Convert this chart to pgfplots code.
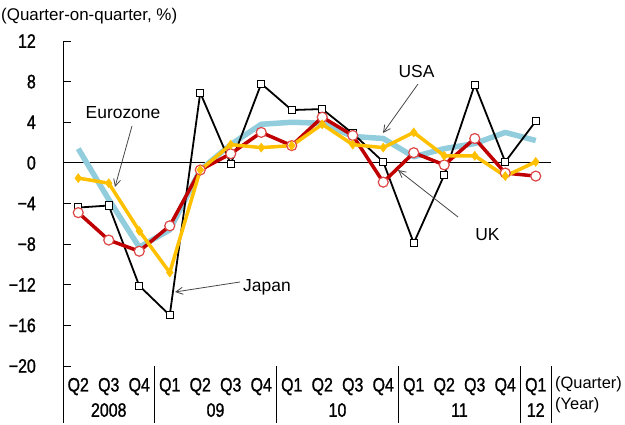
\documentclass[border=0pt]{standalone}
\usepackage{pgfplots}
\pgfplotsset{compat=1.18}
\usepackage{fontspec}
\setmainfont{Liberation Sans}
\newfontfamily\tickfont[FakeStretch=0.82,FakeBold=1.2]{Liberation Sans}
\usetikzlibrary{arrows.meta}
\definecolor{usab}{RGB}{146,205,222}
\definecolor{ukr}{RGB}{192,0,0}
\definecolor{ukc}{RGB}{222,70,70}
\definecolor{euy}{RGB}{255,192,0}
\definecolor{arr}{RGB}{70,70,70}
\newcommand\tf{\tickfont\fontsize{19.5}{19.5}\selectfont}
\begin{document}
\begin{tikzpicture}
\useasboundingbox (0bp,0bp) rectangle (625bp,425bp);
\begin{axis}[
  at={(63bp,59bp)}, anchor=south west,
  width=488bp, height=325bp, scale only axis,
  xmin=-0.5, xmax=15.5, ymin=-20, ymax=12,
  clip=false,
  axis x line*=bottom,
  axis y line*=left,
  x axis line style={draw=none},
  y axis line style={black, line width=0.8bp, -},
  xtick={0,...,15},
  xticklabels={Q2,Q3,Q4,Q1,Q2,Q3,Q4,Q1,Q2,Q3,Q4,Q1,Q2,Q3,Q4,Q1},
  x tick style={draw=none},
  xticklabel style={font=\tf, anchor=base, inner sep=0pt, yshift=-25.5bp},
  ytick={-20,-16,-12,-8,-4,0,4,8,12},
  yticklabels={−20,−16,−12,−8,−4,0,4,8,12},
  ytick align=inside,
  major tick length=8bp,
  y tick style={black, line width=0.8bp},
  yticklabel style={font=\tf, anchor=east, inner sep=0pt, xshift=-27bp},
]
% zero line
\draw[black, line width=0.8bp] (axis cs:-0.5,0) -- (axis cs:15.5,0);
% extension of left axis and separators
\draw[black, line width=0.8bp] (axis cs:-0.5,-20) -- (axis cs:-0.5,-25.6);
\draw[black, line width=0.8bp] (axis cs:2.5,-20) -- (axis cs:2.5,-25.6);
\draw[black, line width=0.8bp] (axis cs:6.5,-20) -- (axis cs:6.5,-25.6);
\draw[black, line width=0.8bp] (axis cs:10.5,-20) -- (axis cs:10.5,-25.6);
\draw[black, line width=0.8bp] (axis cs:14.5,-20) -- (axis cs:14.5,-25.6);
\draw[black, line width=0.8bp] (axis cs:15.5,-20) -- (axis cs:15.5,-25.6);
% year labels
\node[font=\tf, anchor=base, inner sep=0pt] at (axis cs:1,-25.0) {2008};
\node[font=\tf, anchor=base, inner sep=0pt] at (axis cs:4.5,-25.0) {09};
\node[font=\tf, anchor=base, inner sep=0pt] at (axis cs:8.5,-25.0) {10};
\node[font=\tf, anchor=base, inner sep=0pt] at (axis cs:12.5,-25.0) {11};
\node[font=\tf, anchor=base, inner sep=0pt] at (axis cs:15,-25.0) {12};
% USA
\addplot[usab, line width=5.5bp, line join=round] coordinates {
(0,1.4)(1,-3.6)(2,-8.3)(3,-6.6)(4,-0.7)(5,1.8)(6,3.8)(7,4.0)(8,3.9)(9,2.6)(10,2.4)(11,0.6)(12,1.4)(13,1.9)(14,3.0)(15,2.2)};
% Japan
\addplot[black, line width=1.8bp, mark=square*, mark size=3.6bp, mark options={fill=white, draw=black, line width=1bp}] coordinates {
(0,-4.4)(1,-4.2)(2,-12.1)(3,-15.0)(4,6.9)(5,-0.1)(6,7.8)(7,5.2)(8,5.3)(9,2.9)(10,0.1)(11,-7.9)(12,-1.2)(13,7.7)(14,0.1)(15,4.1)};
% UK
\addplot[ukr, line width=3.5bp, mark=*, mark size=5bp, mark options={fill=white, draw=ukc, line width=1.2bp}] coordinates {
(0,-4.9)(1,-7.6)(2,-8.7)(3,-6.2)(4,-0.7)(5,0.9)(6,3.0)(7,1.7)(8,4.5)(9,2.7)(10,-1.9)(11,1.0)(12,-0.2)(13,2.4)(14,-1.0)(15,-1.3)};
% Eurozone
\addplot[euy, line width=3.5bp, mark=diamond*, mark size=4.5bp, mark options={fill=euy, draw=euy, line width=0.5bp}] coordinates {
(0,-1.5)(1,-2.0)(2,-6.7)(3,-10.8)(4,-0.7)(5,1.8)(6,1.5)(7,1.7)(8,3.8)(9,1.8)(10,1.5)(11,3.0)(12,0.7)(13,0.7)(14,-1.3)(15,0.1)};
\end{axis}
% titles and annotations (picture coordinates: x = px, y = 425 - py)
\node[anchor=west, inner sep=0pt, font=\fontsize{17}{17}\selectfont] at (1bp,409bp) {(Quarter-on-quarter, \%)};
\node[anchor=west, inner sep=0pt, font=\fontsize{16.5}{16.5}\selectfont] at (555bp,41bp) {(Quarter)};
\node[anchor=west, inner sep=0pt, font=\fontsize{16.5}{16.5}\selectfont] at (555bp,20bp) {(Year)};
\node[inner sep=0pt, font=\fontsize{17.5}{17.5}\selectfont] at (123bp,312.5bp) {Eurozone};
\node[inner sep=0pt, font=\fontsize{17.5}{17.5}\selectfont] at (416.5bp,353.5bp) {USA};
\node[anchor=base west, inner sep=0pt, font=\fontsize{17.5}{17.5}\selectfont] at (243bp,133bp) {Japan};
\node[inner sep=0pt, font=\fontsize{17.5}{17.5}\selectfont] at (487.5bp,190.5bp) {UK};
\begin{scope}[arr, line width=0.8bp, -{Straight Barb[length=7bp,width=7bp]}]
\draw (418bp,341bp) -- (383bp,292bp);
\draw (132bp,299bp) -- (115bp,238bp);
\draw (240bp,143bp) -- (175bp,133bp);
\draw (458bp,208bp) -- (398bp,255bp);
\end{scope}
\end{tikzpicture}
\end{document}
